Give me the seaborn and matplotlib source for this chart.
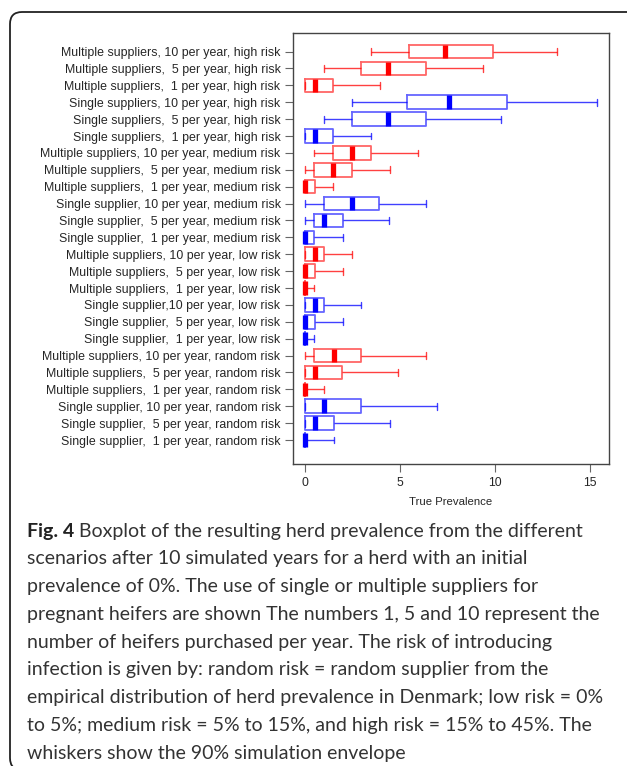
import numpy as np
import pandas as pd
import matplotlib
matplotlib.use("Agg")
import matplotlib.pyplot as plt
import seaborn as sns
from matplotlib.patches import FancyBboxPatch
from matplotlib.transforms import IdentityTransform

# ---------------- data ----------------
labels = [
    "Multiple suppliers, 10 per year, high risk",
    "Multiple suppliers,  5 per year, high risk",
    "Multiple suppliers,  1 per year, high risk",
    "Single suppliers, 10 per year, high risk",
    "Single suppliers,  5 per year, high risk",
    "Single suppliers,  1 per year, high risk",
    "Multiple suppliers, 10 per year, medium risk",
    "Multiple suppliers,  5 per year, medium risk",
    "Multiple suppliers,  1 per year, medium risk",
    "Single supplier, 10 per year, medium risk",
    "Single supplier,  5 per year, medium risk",
    "Single supplier,  1 per year, medium risk",
    "Multiple suppliers, 10 per year, low risk",
    "Multiple suppliers,  5 per year, low risk",
    "Multiple suppliers,  1 per year, low risk",
    "Single supplier,10 per year, low risk",
    "Single supplier,  5 per year, low risk",
    "Single supplier,  1 per year, low risk",
    "Multiple suppliers, 10 per year, random risk",
    "Multiple suppliers,  5 per year, random risk",
    "Multiple suppliers,  1 per year, random risk",
    "Single supplier, 10 per year, random risk",
    "Single supplier,  5 per year, random risk",
    "Single supplier,  1 per year, random risk",
]
supplier = ["Multiple"] * 3 + ["Single"] * 3 + ["Multiple"] * 3 + ["Single"] * 3 \
    + ["Multiple"] * 3 + ["Single"] * 3 + ["Multiple"] * 3 + ["Single"] * 3

whisker_low = [3.46, 0.99, 0.0, 2.46, 0.99, 0.0,
               0.51, 0.0, 0.0, 0.0, 0.0, 0.0,
               0.0, 0.0, 0.0, 0.0, 0.0, 0.0,
               0.0, 0.0, 0.0, 0.0, 0.0, 0.0]
q1 = [5.46, 2.97, 0.0, 5.39, 2.48, 0.0,
      1.47, 0.51, 0.0, 0.99, 0.51, 0.0,
      0.0, 0.0, 0.0, 0.0, 0.0, 0.0,
      0.51, 0.0, 0.0, 0.0, 0.0, 0.0]
median = [7.38, 4.40, 0.52, 7.59, 4.40, 0.52,
          2.46, 1.47, 0.0, 2.46, 1.00, 0.0,
          0.52, 0.0, 0.0, 0.52, 0.0, 0.0,
          1.52, 0.52, 0.0, 1.00, 0.52, 0.0]
q3 = [9.91, 6.39, 1.48, 10.65, 6.35, 1.48,
      3.49, 2.46, 0.52, 3.91, 1.99, 0.50,
      1.00, 0.52, 0.0, 1.00, 0.52, 0.0,
      2.97, 1.95, 0.0, 2.97, 1.52, 0.0]
whisker_high = [13.25, 9.37, 3.98, 15.38, 10.31, 3.46,
                5.97, 4.49, 1.50, 6.39, 4.45, 2.00,
                2.48, 2.00, 0.50, 2.97, 2.00, 0.50,
                6.37, 4.92, 1.00, 6.96, 4.50, 1.52]

xticks = [0, 5, 10, 15]
xlabel = "True Prevalence"

caption_bold = "Fig. 4"
caption_lines = [
    " Boxplot of the resulting herd prevalence from the different",
    "scenarios after 10 simulated years for a herd with an initial",
    "prevalence of 0%. The use of single or multiple suppliers for",
    "pregnant heifers are shown The numbers 1, 5 and 10 represent the",
    "number of heifers purchased per year. The risk of introducing",
    "infection is given by: random risk = random supplier from the",
    "empirical distribution of herd prevalence in Denmark; low risk = 0%",
    "to 5%; medium risk = 5% to 15%, and high risk = 15% to 45%. The",
    "whiskers show the 90% simulation envelope",
]

# ---------------- long table: five-number summary per scenario ----------------
rows = []
for lab, sup, a, b, c, d, e in zip(labels, supplier, whisker_low, q1, median, q3, whisker_high):
    for v in (a, b, c, d, e):
        rows.append({"scenario": lab, "supplier": sup, "prevalence": v})
df = pd.DataFrame(rows)

sns.set_theme(style="white")
plt.rcParams["font.family"] = ["Liberation Sans", "DejaVu Sans"]

W, H, DPI = 627, 766, 100
fig = plt.figure(figsize=(W / DPI, H / DPI), dpi=DPI)
fig.patch.set_facecolor("white")

ax_l, ax_r, ax_t, ax_b = 293, 609, 33, 464
ax = fig.add_axes([ax_l / W, 1 - ax_b / H, (ax_r - ax_l) / W, (ax_b - ax_t) / H])

sns.boxplot(
    data=df, x="prevalence", y="scenario", hue="supplier",
    order=labels, hue_order=["Multiple", "Single"],
    palette={"Multiple": "#ff0000", "Single": "#0000ff"},
    dodge=False, fill=False, whis=(0, 100), width=0.8, linewidth=1.0,
    legend=False, ax=ax,
    boxprops={"alpha": 0.6, "linewidth": 1.3},
    whiskerprops={"alpha": 0.75, "linewidth": 1.0},
    capprops={"alpha": 0.75, "linewidth": 1.0},
    medianprops={"linewidth": 3.8, "alpha": 1.0, "solid_capstyle": "butt"},
)

ax.set_xlim(-0.62, 16.0)
ax.set_ylim(len(labels) - 1 + 1.42, -1.1)
ax.set_xticks(xticks)
ax.set_xticklabels([str(t) for t in xticks], fontsize=8.8)
ax.set_xlabel(xlabel, fontsize=8.2, labelpad=6)
ax.set_ylabel("")
ax.tick_params(axis="y", labelsize=8.9, length=6, width=0.8, color="#666666",
               direction="out", left=True, pad=3)
ax.tick_params(axis="x", length=6, width=0.8, color="#666666",
               direction="out", bottom=True, pad=3)
ax.grid(False)
for s in ax.spines.values():
    s.set_color("#444444")
    s.set_linewidth(1.0)

# ---------------- card border ----------------
card = FancyBboxPatch((10, -4), 800, (H - 12) + 4,
                      boxstyle="round,pad=0,rounding_size=12",
                      transform=IdentityTransform(), fill=False,
                      ec="#222222", lw=1.3)
fig.add_artist(card)

# ---------------- caption ----------------
cap_font = ["Lato", "DejaVu Sans"]
renderer = fig.canvas.get_renderer()
probe = fig.text(0, 0, caption_lines[6], fontsize=14, family=cap_font)
w = probe.get_window_extent(renderer).width
probe.remove()
fs = 14 * 578.0 / w

x0 = 27 / W
y_lines = [531 + i * 27.8 for i in range(len(caption_lines))]
tb = fig.text(x0, 1 - y_lines[0] / H, caption_bold, fontsize=fs, family=cap_font,
              weight="bold", va="center", ha="left", color="#222222")
bw = tb.get_window_extent(renderer).width
fig.text(x0 + bw / W, 1 - y_lines[0] / H, caption_lines[0], fontsize=fs,
         family=cap_font, va="center", ha="left", color="#333333")
for yy, line in zip(y_lines[1:], caption_lines[1:]):
    fig.text(x0, 1 - yy / H, line, fontsize=fs, family=cap_font,
             va="center", ha="left", color="#333333")

fig.savefig("out.png", dpi=DPI, facecolor="white")
